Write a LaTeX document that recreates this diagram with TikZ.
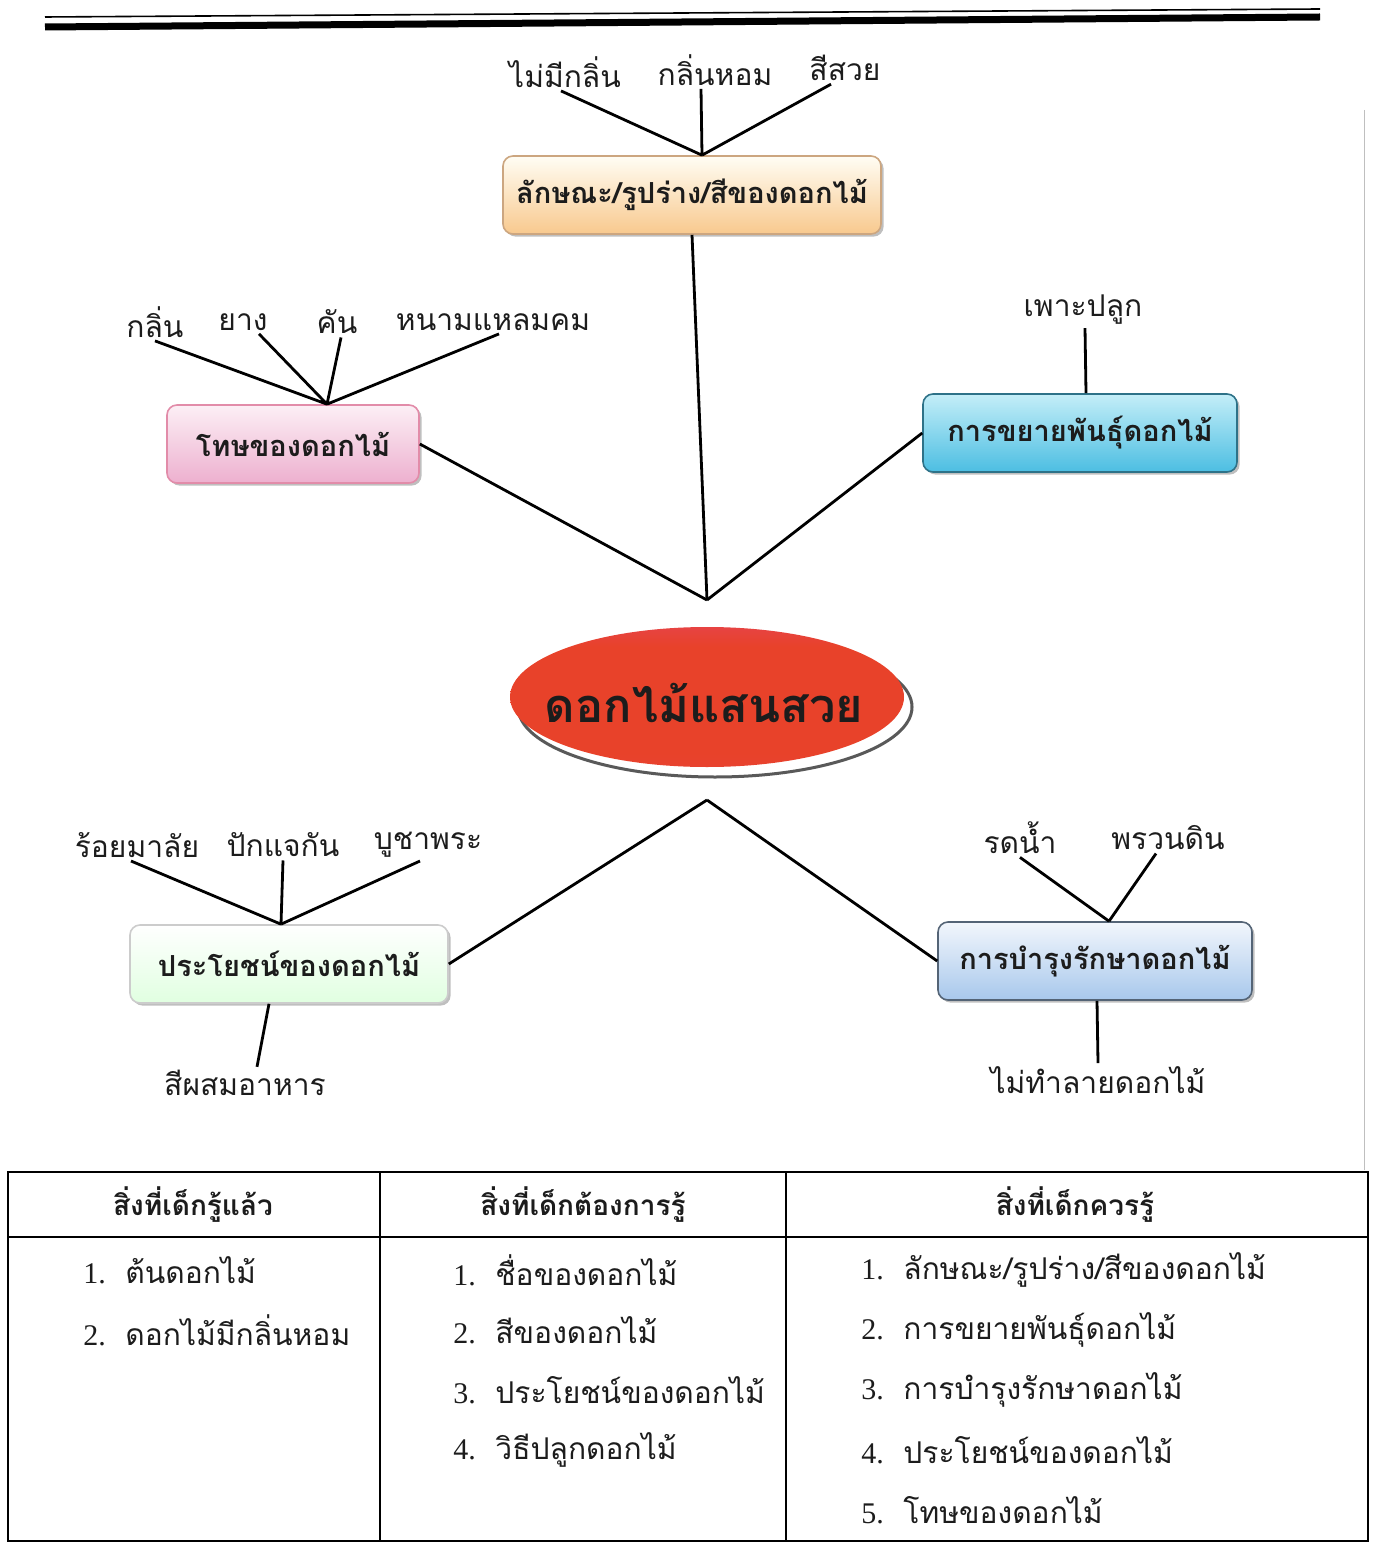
\documentclass[tikz,border=0pt]{standalone}
\usepackage{fontspec}
\setmainfont{Liberation Serif}
\newfontfamily\thaifont[Script=Thai]{Loma}
\newfontfamily\numfont{Liberation Serif}
\usetikzlibrary{positioning,shapes.geometric,shadows}

\definecolor{ink}{HTML}{1C1C1C}
\definecolor{hubred}{HTML}{E8422A}
\definecolor{hubpink}{HTML}{E2479A}
\definecolor{skytop}{HTML}{C4EEF8}
\definecolor{skybot}{HTML}{4CBEE2}
\definecolor{icetop}{HTML}{F2F6FC}
\definecolor{icebot}{HTML}{A8C8EC}
\definecolor{rosetop}{HTML}{FCEFF5}
\definecolor{rosebot}{HTML}{EDB0CF}
\definecolor{sandtop}{HTML}{FFFDF4}
\definecolor{sandbot}{HTML}{F8C98E}
\pgfdeclareverticalshading{hubshade}{100bp}{color(0bp)=(hubred!75!hubpink);
  color(30bp)=(hubred); color(68bp)=(hubred); color(100bp)=(hubpink)}
\newcommand\itemno[1]{\makebox[21pt][l]{\numfont #1.}}

\begin{document}
\begin{tikzpicture}[x=0.5pt,y=-0.5pt,line width=1.4pt,
    topic/.style={rectangle,rounded corners=5pt,minimum height=39pt,
      line width=0.8pt,text=ink,font=\thaifont\bfseries\fontsize{14.5}{18}\selectfont,
      drop shadow={shadow xshift=1.3pt,shadow yshift=-1.3pt,opacity=.5}},
    leaf/.style={text=ink,inner sep=1pt,font=\thaifont\fontsize{15}{18}\selectfont},
    hub/.style={text=ink,font=\thaifont\bfseries\fontsize{23.5}{28}\selectfont},
    cell/.style={text=ink,anchor=west,inner sep=0pt,
      font=\thaifont\fontsize{15}{18}\selectfont},
    head/.style={text=ink,font=\thaifont\bfseries\fontsize{14}{17}\selectfont}]
  \useasboundingbox (0,0) rectangle (1374,1545);
  %\fill[white] (0,0) rectangle (1374,1545);

  % header rule of the page
  \draw[line width=0.8pt] (45,17) -- (1320,9);
  \draw[line width=3.5pt] (45,27) -- (1320,17);
  \draw[line width=0.5pt,black!25] (1364,110) -- (1364,1170);

  % centre
  \draw[fill=white,draw=black!65,line width=1.5pt] (715,707)
        ellipse [x radius=98.5pt,y radius=35pt];
  \shade[shading=hubshade] (707,697) ellipse [x radius=98.5pt,y radius=35pt];
  \node[hub] (hub) at (704,703) {ดอกไม้แสนสวย};
  \coordinate (hubN) at (707,600);
  \coordinate (hubS) at (707,800);

  % topics
  \node[topic,minimum width=189pt,draw=orange!60!black!50,
        top color=sandtop,bottom color=sandbot] (shape) at (692,195)
        {ลักษณะ/รูปร่าง/สีของดอกไม้};
  \node[topic,minimum width=126pt,draw=purple!45,
        top color=rosetop,bottom color=rosebot] (harm) at (293,444)
        {โทษของดอกไม้};
  \node[topic,minimum width=157pt,draw=skybot!60!black,
        top color=skytop,bottom color=skybot] (breed) at (1080,433)
        {การขยายพันธุ์ดอกไม้};
  \node[topic,minimum width=159pt,draw=black!20,
        top color=white,bottom color=green!12] (use) at (289,964)
        {ประโยชน์ของดอกไม้};
  \node[topic,minimum width=157pt,draw=icebot!50!black,
        top color=icetop,bottom color=icebot] (care) at (1095,961)
        {การบำรุงรักษาดอกไม้};

  % leaves
  \node[leaf] (nosmell) at (565,72) {ไม่มีกลิ่น};
  \node[leaf] (fragrant) at (715,70) {กลิ่นหอม};
  \node[leaf] (pretty) at (845,68) {สีสวย};

  \node[leaf] (smell) at (155,322) {กลิ่น};
  \node[leaf] (sap) at (243,322) {ยาง};
  \node[leaf] (itch) at (337,322) {คัน};
  \node[leaf] (thorn) at (493,322) {หนามแหลมคม};

  \node[leaf] (sow) at (1083,310) {เพาะปลูก};

  \node[leaf] (garland) at (137,845) {ร้อยมาลัย};
  \node[leaf] (vase) at (283,845) {ปักแจกัน};
  \node[leaf] (worship) at (428,845) {บูชาพระ};
  \node[leaf] (dye) at (245,1083) {สีผสมอาหาร};

  \node[leaf] (water) at (1020,838) {รดน้ำ};
  \node[leaf] (soil) at (1168,838) {พรวนดิน};
  \node[leaf] (keep) at (1098,1080) {ไม่ทำลายดอกไม้};

  % connectors
  \draw (shape.south) -- (hubN);
  \draw (harm.east) -- (hubN);
  \draw (breed.west) -- (hubN);
  \draw (use.east) -- (hubS);
  \draw (care.west) -- (hubS);

  \draw ([xshift=-2pt]nosmell.south) -- ([xshift=5pt]shape.north)
        ([xshift=-7pt]fragrant.south) -- ([xshift=5pt]shape.north)
        ([xshift=-7pt]pretty.south) -- ([xshift=5pt]shape.north);
  \draw (smell.south) -- ([xshift=17pt]harm.north)
        ([xshift=8pt]sap.south) -- ([xshift=17pt]harm.north)
        ([xshift=2pt]itch.south) -- ([xshift=17pt]harm.north)
        ([xshift=3pt]thorn.south) -- ([xshift=17pt]harm.north);
  \draw ([xshift=1pt]sow.south) -- ([xshift=3pt]breed.north);
  \draw ([xshift=-3pt]garland.south) -- ([xshift=-4pt]use.north)
        (vase.south) -- ([xshift=-4pt]use.north)
        ([xshift=-4pt]worship.south) -- ([xshift=-4pt]use.north);
  \draw ([xshift=-10pt]use.south) -- ([xshift=6pt]dye.north);
  \draw (water.south) -- ([xshift=7pt]care.north)
        ([xshift=-6pt]soil.south) -- ([xshift=7pt]care.north);
  \draw ([xshift=1pt]care.south) -- (keep.north);

  % table
  \draw[line width=1pt] (8,1172) rectangle (1368,1541);
  \draw[line width=1pt] (8,1237) -- (1368,1237);
  \draw[line width=0.8pt] (380,1172) -- (380,1541)
                          (786,1172) -- (786,1541);
  \node[head] (knowh) at (193,1205) {สิ่งที่เด็กรู้แล้ว};
  \node[head] (wanth) at (583,1205) {สิ่งที่เด็กต้องการรู้};
  \node[head] (shouldh) at (1075,1205) {สิ่งที่เด็กควรรู้};

  \node[cell] (know1) at (82,1270) {\itemno{1}ต้นดอกไม้};
  \node[cell] (know2) at (82,1330) {\itemno{2}ดอกไม้มีกลิ่นหอม};

  \node[cell] (want1) at (452,1270) {\itemno{1}ชื่อของดอกไม้};
  \node[cell] (want2) at (452,1330) {\itemno{2}สีของดอกไม้};
  \node[cell] (want3) at (452,1390) {\itemno{3}ประโยชน์ของดอกไม้};
  \node[cell] (want4) at (452,1450) {\itemno{4}วิธีปลูกดอกไม้};

  \node[cell] (should1) at (860,1270) {\itemno{1}ลักษณะ/รูปร่าง/สีของดอกไม้};
  \node[cell] (should2) at (860,1330) {\itemno{2}การขยายพันธุ์ดอกไม้};
  \node[cell] (should3) at (860,1390) {\itemno{3}การบำรุงรักษาดอกไม้};
  \node[cell] (should4) at (860,1450) {\itemno{4}ประโยชน์ของดอกไม้};
  \node[cell] (should5) at (860,1510) {\itemno{5}โทษของดอกไม้};
\end{tikzpicture}
\end{document}
